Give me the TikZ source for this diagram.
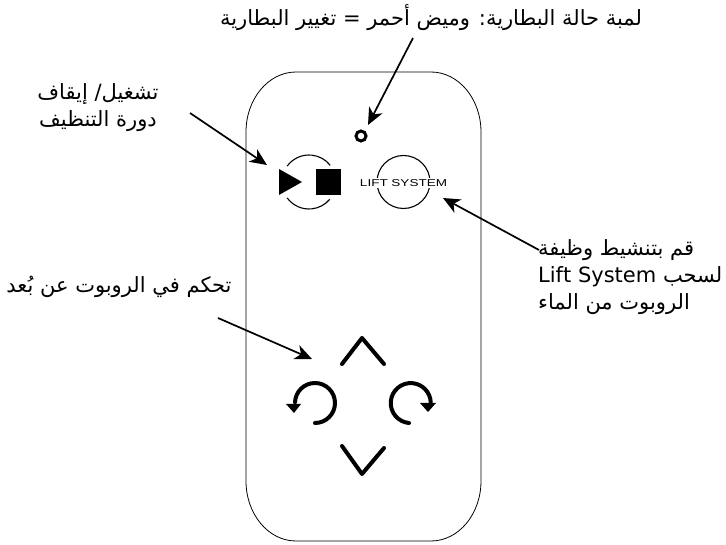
\documentclass[tikz,border=0pt]{standalone}
\usepackage{fontspec}
\usetikzlibrary{arrows.meta}
\TeXXeTstate=1
\newfontfamily\arabicfont[Script=Arabic]{DejaVu Sans}
\newfontfamily\liftfont[FakeStretch=1.35]{Liberation Sans}
\tikzset{
  labeltext/.style={font=\arabicfont\fontsize{21}{27}\selectfont,inner sep=0pt,align=center,text=black},
  callout/.style={line width=1.7pt,-{Stealth[length=17pt,width=15pt,inset=5pt]}},
  keystroke/.style={line width=4pt,line cap=round,line join=round},
  thinarc/.style={line width=1.1pt},
  bodyline/.style={line width=0.8pt}
}
\begin{document}
\begin{tikzpicture}[x=1pt,y=-1pt]
\useasboundingbox (0,0) rectangle (726,545);
% remote body
\draw[bodyline] (296,72) -- (431,72) arc[start angle=-90,end angle=0,x radius=50,y radius=60]
  -- (481,481) arc[start angle=0,end angle=90,x radius=50,y radius=60]
  -- (296,541) arc[start angle=90,end angle=180,x radius=50,y radius=60]
  -- (246,132) arc[start angle=180,end angle=270,x radius=50,y radius=60] -- cycle;
% labels
\node[labeltext] (battery) at (431,18) {\beginR لمبة حالة البطارية: وميض أحمر = تغيير البطارية\endR};
\node[labeltext] (play) at (98,108) {\beginR تشغيل/ إيقاف\endR\\\beginR دورة التنظيف\endR};
\node[labeltext] (remote) at (119,287) {\beginR تحكم في الروبوت عن بُعد\endR};
\node[labeltext,align=left,anchor=west] (lift) at (538,277) {\beginR قم بتنشيط وظيفة\endR\\\beginR لسحب \beginL Lift System\endL\endR\\\beginR الروبوت من الماء\endR};
% LED
\draw[line width=3pt] (361,136) circle[radius=5];
% play/stop
\fill (279,169) -- (279,195) -- (302,182) -- cycle;
\fill (316,169) rectangle (341,195);
\draw[thinarc] (309,182) ++(-144:27) arc[start angle=-144,end angle=-38,radius=27];
\draw[thinarc] (309,182) ++(144:27) arc[start angle=144,end angle=40,radius=27];
% lift system
\draw[thinarc] (403.5,182) circle[radius=26.5];
\node[fill=white,inner xsep=0pt,inner ysep=1pt,text=black,font=\liftfont\fontsize{10}{10}\selectfont] (liftlogo) at (403.5,183) {LIFT SYSTEM};
% direction keys
\draw[keystroke] (342,364) -- (362,338) -- (384,364);
\draw[keystroke] (342,446) -- (362,474) -- (384,448);
\draw[keystroke] (315,423) arc[start angle=90,end angle=-178,radius=20];
\draw[keystroke] (409,423) arc[start angle=95,end angle=358,radius=20];
\fill (286,404) -- (301,404) -- (294,413) -- cycle;
\fill (420,403) -- (436,403) -- (428,412) -- cycle;
% callouts
\coordinate (ledtip) at (368,125);
\coordinate (playtip) at (267,165);
\coordinate (lifttip) at (443,198);
\coordinate (remotetip) at (312,359);
\coordinate (a) at (413,38);
\coordinate (b) at (190,113);
\coordinate (c) at (539,250);
\coordinate (d) at (218,318);
\draw[callout] (a) -- (ledtip);
\draw[callout] (b) -- (playtip);
\draw[callout] (c) -- (lifttip);
\draw[callout] (d) -- (remotetip);
\end{tikzpicture}
\end{document}
